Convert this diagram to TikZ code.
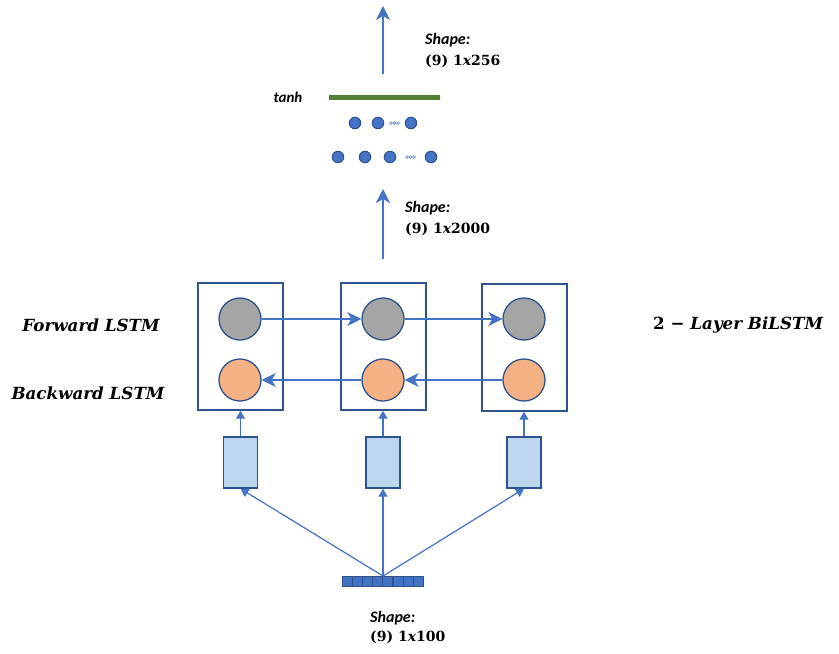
\documentclass[tikz,border=0pt]{standalone}
\usepackage{fontspec}
\newfontfamily\calib{Carlito}
\newfontfamily\dser{DejaVu Serif}
\usetikzlibrary{arrows.meta}
\definecolor{ablue}{HTML}{4472C4}
\definecolor{dblue}{HTML}{2F528F}
\definecolor{cgray}{HTML}{A5A5A5}
\definecolor{corange}{HTML}{F4B183}
\definecolor{lblue}{HTML}{BDD7EE}
\definecolor{cgreen}{HTML}{548235}
\newcommand{\ix}{{\dser\bfseries\itshape x}}
\tikzset{
  conn/.style={draw=ablue, line width=1.8pt, -{Stealth[length=14pt,width=14pt,inset=4pt]}},
  smallarr/.style={draw=ablue, line width=1.2pt, -{Triangle[length=8pt,width=9pt]}},
  cellbox/.style={draw=dblue, line width=1.4pt, minimum width=85pt, minimum height=127pt, inner sep=0pt},
  fwd/.style={circle, draw=dblue, line width=1.3pt, fill=cgray, minimum size=42pt, inner sep=0pt},
  bwd/.style={circle, draw=dblue, line width=1.3pt, fill=corange, minimum size=42pt, inner sep=0pt},
  emb/.style={draw=dblue, line width=1.4pt, fill=lblue, minimum width=34pt, minimum height=51pt, inner sep=0pt},
  dot/.style={circle, draw=dblue, line width=1pt, fill=ablue, minimum size=11.5pt, inner sep=0pt},
  sdot/.style={circle, draw=ablue, line width=0.5pt, fill=white, minimum size=2.8pt, inner sep=0pt},
  vcell/.style={draw=dblue, line width=0.7pt, fill=ablue, minimum width=10pt, minimum height=10pt, inner sep=0pt},
  shp/.style={font=\calib\bfseries\itshape\fontsize{16}{18}\selectfont, anchor=west, inner sep=0pt},
  shv/.style={font=\dser\bfseries\fontsize{14}{17}\selectfont, anchor=west, inner sep=0pt},
  lbl/.style={font=\dser\bfseries\itshape\fontsize{16.7}{20}\selectfont, inner sep=0pt},
}
\begin{document}
\begin{tikzpicture}[x=1pt,y=-1pt]
\useasboundingbox (0,0) rectangle (839,654);
% top output
\coordinate (outtop) at (383,6);
\coordinate (outbot) at (383,74);
\draw[conn] (outbot) -- (outtop);
\node[shp] (s1a) at (425,40) {Shape:};
\node[shv] (s1b) at (425,61) {(9) 1\ix256};
\node[font=\calib\bfseries\itshape\fontsize{15}{17}\selectfont, inner sep=0pt] (tanh) at (288,97) {tanh};
\draw[cgreen, line width=5pt] (329,97) coordinate (g1) -- (440,97) coordinate (g2);
% dense layers
\node[dot] (d11) at (355,123) {};
\node[dot] (d12) at (378,123) {};
\node[dot] (d13) at (411,123) {};
\foreach \i/\xx in {1/391,2/394.5,3/398}{\node[sdot] (e1\i) at (\xx,123) {};}
\node[dot] (d21) at (338,157) {};
\node[dot] (d22) at (365,157) {};
\node[dot] (d23) at (390,157) {};
\node[dot] (d24) at (431,157) {};
\foreach \i/\xx in {1/407,2/410.5,3/414}{\node[sdot] (e2\i) at (\xx,157) {};}
% second arrow
\coordinate (m2top) at (383,189);
\coordinate (m2bot) at (383,259);
\draw[conn] (m2bot) -- (m2top);
\node[shp] (s2a) at (405,208) {Shape:};
\node[shv] (s2b) at (405,229) {(9) 1\ix2000};
% LSTM cells
\node[cellbox] (c1) at (240.5,346.5) {};
\node[cellbox] (c2) at (383.5,346.5) {};
\node[cellbox] (c3) at (524.5,347.5) {};
\node[fwd] (f1) at (240,319) {};
\node[fwd] (f2) at (383,319) {};
\node[fwd] (f3) at (524,319) {};
\node[bwd] (b1) at (240,380) {};
\node[bwd] (b2) at (383,380) {};
\node[bwd] (b3) at (524,380) {};
\draw[conn] (f1) -- (f2);
\draw[conn] (f2) -- (f3);
\draw[conn] (b3) -- (b2);
\draw[conn] (b2) -- (b1);
\node[lbl] (fl) at (91,325) {Forward LSTM};
\node[lbl] (bl) at (88,393) {Backward LSTM};
\node[lbl, anchor=west] (bil) at (653,325) {\textup{2} − Layer BiLSTM};
% embedding boxes
\node[emb] (e1) at (240.5,462.5) {};
\node[emb] (e2) at (383,462.5) {};
\node[emb] (e3) at (524,462.5) {};
\draw[smallarr] (e1.north) -- (c1.south -| e1.north);
\draw[smallarr] (e2.north) -- (c2.south -| e2.north);
\draw[smallarr] (e3.north) -- (c3.south -| e3.north);
% input vector
\foreach \i in {0,...,7}{\node[vcell] (v\i) at (347+\i*10.2,581) {};}
\coordinate (vtop) at (383,576);
\draw[smallarr] (vtop) -- (e1.south);
\draw[smallarr] (vtop) -- (e2.south);
\draw[smallarr] (vtop) -- (e3.south);
\node[shp] (s3a) at (370,618) {Shape:};
\node[shv] (s3b) at (370,637) {(9) 1\ix100};
\end{tikzpicture}
\end{document}
